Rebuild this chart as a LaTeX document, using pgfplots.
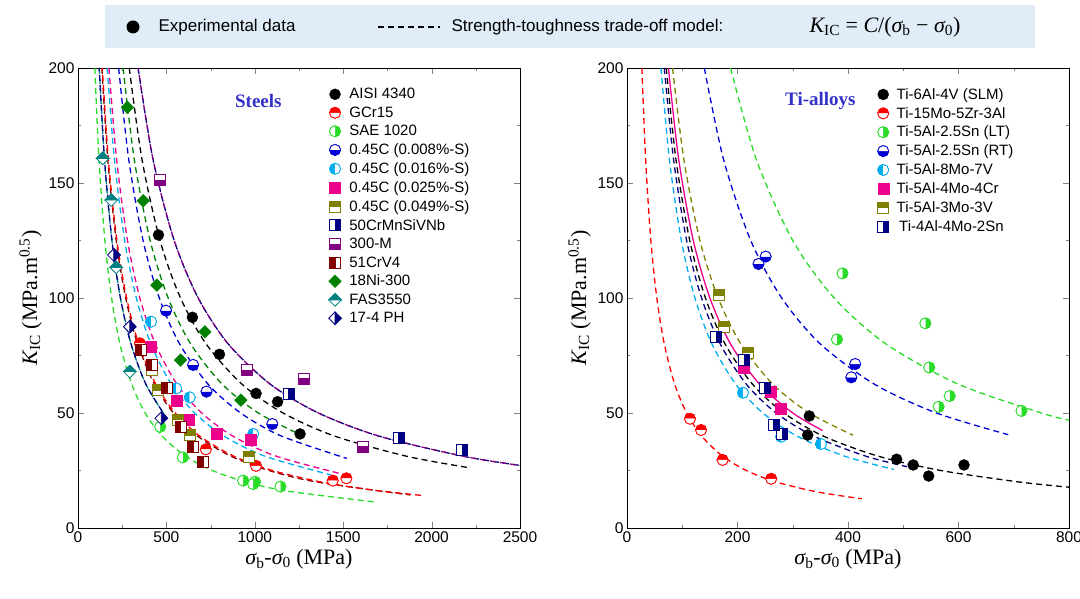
\documentclass[border=0pt]{standalone}
\usepackage{pgfplots}
\pgfplotsset{compat=1.18}
\usetikzlibrary{plotmarks}
\usepackage{fontspec}
\setmainfont{Liberation Sans}
\newfontfamily\tnr{Liberation Serif}
\definecolor{lgreen}{RGB}{40,220,40}
\definecolor{mblue}{RGB}{0,0,210}
\definecolor{olv}{RGB}{128,128,0}
\definecolor{nvy}{RGB}{0,0,128}
\definecolor{prp}{RGB}{128,0,128}
\definecolor{mrn}{RGB}{128,0,0}
\definecolor{dgrn}{RGB}{0,128,0}
\definecolor{tl}{RGB}{0,128,128}
\definecolor{boxbg}{RGB}{224,236,248}
\definecolor{ttl}{RGB}{50,50,200}
\pgfdeclareplotmark{hsq}{\pgfpathrectangle{\pgfpoint{-\pgfplotmarksize}{0pt}}{\pgfpoint{2\pgfplotmarksize}{\pgfplotmarksize}}\pgfusepathqfillstroke}
\pgfdeclareplotmark{fdm}{\pgfpathmoveto{\pgfpoint{0pt}{1.15\pgfplotmarksize}}\pgfpathlineto{\pgfpoint{1.15\pgfplotmarksize}{0pt}}\pgfpathlineto{\pgfpoint{0pt}{-1.15\pgfplotmarksize}}\pgfpathlineto{\pgfpoint{-1.15\pgfplotmarksize}{0pt}}\pgfpathclose\pgfusepathqfillstroke}
\pgfdeclareplotmark{hdm}{\pgfpathmoveto{\pgfpoint{0pt}{1.15\pgfplotmarksize}}\pgfpathlineto{\pgfpoint{1.15\pgfplotmarksize}{0pt}}\pgfpathlineto{\pgfpoint{-1.15\pgfplotmarksize}{0pt}}\pgfpathclose\pgfusepathqfillstroke}
\newcommand\hp[5]{%
 \addplot[only marks, mark=#2, mark size=5.5pt, mark options={draw=#1,fill=white,line width=0.8pt}, forget plot] coordinates {#5};
 \addplot[only marks, mark=#3, mark size=5.5pt, color=#1, mark options={draw=#1,fill=#1,rotate=#4,line width=0.8pt},
   legend image code/.code={\draw[mark=#2,mark size=5.5pt,mark options={draw=#1,fill=white,line width=0.8pt}] plot coordinates {(0.35cm,0cm)}; \draw[mark=#3,mark size=5.5pt,mark options={draw=#1,fill=#1,rotate=#4,line width=0.8pt}] plot coordinates {(0.35cm,0cm)};}] coordinates {#5};}
\newcommand\fp[3]{\addplot[only marks, mark=#2, mark size=5.5pt, color=#1, mark options={fill=#1},
   legend image code/.code={\draw[mark=#2,mark size=5.5pt,mark options={draw=#1,fill=#1}] plot coordinates {(0.35cm,0cm)};}] coordinates {#3};}
\newcommand\cv[2]{\addplot[#1, no marks, smooth, line width=1.3pt, dash pattern=on 6pt off 4pt, forget plot] coordinates {#2};}
\pgfplotsset{myax/.style={scale only axis, width=442pt, height=460pt, ymin=0, ymax=200,
 ytick={0,50,100,150,200}, minor y tick num=1, minor x tick num=1, tick align=inside,
 major tick length=6pt, minor tick length=3pt, axis line style={line width=0.8pt},
 ticklabel style={font=\fontsize{15.5}{18}\selectfont}, /pgf/number format/assume math mode=true,
 /pgf/number format/1000 sep={},
 label style={font=\tnr\fontsize{22}{24}\selectfont},
 ylabel={{\itshape K}\textsubscript{IC} (MPa.m\textsuperscript{0.5})},
 xlabel={{\itshape σ}\textsubscript{b}-{\itshape σ}\textsubscript{0} (MPa)},
 legend style={anchor=north west, draw=none, fill=none, font=\fontsize{15}{17}\selectfont, row sep=2.5pt, column sep=6pt, cells={anchor=west}},
 clip=true}}
\begin{document}
\begin{tikzpicture}
\useasboundingbox (0pt,0pt) rectangle (1080pt,599pt);
% top legend
\fill[boxbg] (105pt,551pt) rectangle (1035pt,594pt);
\fill[black] (133pt,572pt) circle (6.5pt);
\node[anchor=west,font=\fontsize{17}{19}\selectfont] at (155pt,572pt) {Experimental data};
\draw[line width=1.3pt, dash pattern=on 6pt off 4pt] (378pt,572pt) -- (440pt,572pt);
\node[anchor=west,font=\fontsize{17}{19}\selectfont] at (448pt,572pt) {Strength-toughness trade-off model:};
\node[anchor=west,font=\tnr\fontsize{22}{24}\selectfont] at (806pt,572pt) {{\itshape K}\textsubscript{IC} = {\itshape C}/({\itshape σ}\textsubscript{b} − {\itshape σ}\textsubscript{0})};
% left axis
\begin{axis}[myax, at={(78pt,71pt)}, anchor=south west, xmin=0, xmax=2500, xtick={0,500,...,2500},
  legend style={at={(0.56,0.965)}}]
\cv{mrn}{(135,200)(168.75,160)(216,125)(270,100)(337.5,80)(432,62.5)(540,50)(675,40)(864,31.25)(1080,25)(1350,20)(1880,14.36)}
\cv{red,dash phase=3pt}{(137.5,200)(171.9,160)(220,125)(275,100)(343.8,80)(440,62.5)(550,50)(687.5,40)(880,31.25)(1100,25)(1375,20)(1650,16.67)(1940,14.18)}
\cv{lgreen}{(95,200)(118.75,160)(152,125)(190,100)(237.5,80)(304,62.5)(380,50)(475,40)(608,31.25)(760,25)(950,20)(1187.5,16)(1680,11.31)}
\cv{cyan}{(165,200)(206.25,160)(264,125)(330,100)(412.5,80)(528,62.5)(660,50)(825,40)(1056,31.25)(1430,23.08)}
\cv{magenta}{(175,200)(218.75,160)(280,125)(350,100)(437.5,80)(560,62.5)(700,50)(875,40)(1120,31.25)(1500,23.33)}
\cv{mblue}{(230,200)(287.5,160)(368,125)(460,100)(575,80)(736,62.5)(920,50)(1150,40)(1520,30.26)}
\cv{dgrn}{(255,200)(318.75,160)(408,125)(510,100)(637.5,80)(816,62.5)(1020,50)(1260,40.48)}
\cv{black}{(290,200)(362.5,160)(464,125)(580,100)(725,80)(928,62.5)(1160,50)(1450,40)(1856,31.25)(2200,26.36)}
\cv{nvy}{(340,200)(425,160)(544,125)(680,100)(850,80)(1088,62.5)(1360,50)(1700,40)(2176,31.25)(2500,27.2)}
\cv{prp,dash phase=3pt}{(340,200)(425,160)(544,125)(680,100)(850,80)(1088,62.5)(1360,50)(1700,40)(2176,31.25)(2500,27.2)}
\cv{tl}{(120,200)(150,160)(192,125)(240,100)(300,80)(384,62.5)(500,48)}
\cv{nvy,dash phase=3pt}{(120,200)(150,160)(192,125)(240,100)(300,80)(384,62.5)(500,48)}
\fp{black}{*}{(455,127.4)(647,91.6)(800,75.5)(1007,58.5)(1129,54.9)(1256,40.9)}
\addlegendentry{AISI 4340}
\hp{red}{*}{halfcircle*}{0}{(350,80.3)(723,34.2)(1007,27.0)(1441,20.6)(1518,21.6)}
\addlegendentry{GCr15}
\hp{lgreen}{*}{halfcircle*}{-90}{(465,44)(593,30.7)(934,20.6)(1001,20.1)(991,19.1)(1145,18.0)}
\addlegendentry{SAE 1020}
\hp{mblue}{*}{halfcircle*}{180}{(498,94.5)(651,70.9)(727,59.3)(1099,45.2)}
\addlegendentry{0.45C (0.008\%-S)}
\hp{cyan}{*}{halfcircle*}{90}{(413,89.7)(555,60.7)(632,56.8)(991,40.9)}
\addlegendentry{0.45C (0.016\%-S)}
\fp{magenta}{square*}{(413,78.8)(561,55.3)(624,47.2)(785,41.2)(978,38.5)}
\addlegendentry{0.45C (0.025\%-S)}
\hp{olv}{square*}{hsq}{0}{(417,68.7)(452,60)(567,47.2)(632,40.4)(969,31)}
\addlegendentry{0.45C (0.049\%-S)}
\hp{nvy}{square*}{hsq}{-90}{(1192,58.5)(1815,39.3)(2174,33.9)}
\addlegendentry{50CrMnSiVNb}
\hp{prp}{square*}{hsq}{180}{(465,151.3)(957,68.7)(1279,65)(1614,35.4)}
\addlegendentry{300-M}
\hp{mrn}{square*}{hsq}{90}{(356,77.4)(417,70.9)(503,60.7)(580,44)(651,35.4)(708,28.8)}
\addlegendentry{51CrV4}
\fp{dgrn}{fdm}{(279,182.9)(369,142.3)(446,105.6)(580,73)(718,85.3)(921,55.6)}
\addlegendentry{18Ni-300}
\hp{tl}{fdm}{hdm}{0}{(140,160.7)(188,142.6)(216,113.3)(293,68)}
\addlegendentry{FAS3550}
\hp{nvy}{fdm}{hdm}{-90}{(203,118.7)(293,87.5)(471,47.7)}
\addlegendentry{17-4 PH}
\node[font=\tnr\bfseries\fontsize{19}{21}\selectfont, text=ttl] at (axis cs:1020,185.6) {Steels};
\end{axis}
% right axis
\begin{axis}[myax, at={(627pt,71pt)}, anchor=south west, xmin=0, xmax=800, xtick={0,200,...,800},
  legend style={at={(0.56,0.965)}}]
\cv{red}{(27,200)(33.75,160)(43.2,125)(54,100)(67.5,80)(86.4,62.5)(108,50)(135,40)(172.8,31.25)(216,25)(270,20)(345.6,15.625)(425,12.71)}
\cv{cyan}{(61.5,200)(76.9,160)(98.4,125)(123,100)(153.75,80)(196.8,62.5)(246,50)(307.5,40)(393.6,31.25)(483,25.47)}
\cv{nvy}{(67.5,200)(84.4,160)(108,125)(135,100)(168.75,80)(216,62.5)(270,50)(337.5,40)(432,31.25)(507,26.63)}
\cv{black}{(71,200)(88.75,160)(113.6,125)(142,100)(177.5,80)(227.2,62.5)(284,50)(355,40)(454.4,31.25)(568,25)(710,20)(800,17.75)}
\cv{olv}{(82.5,200)(103.1,160)(132,125)(165,100)(206.25,80)(264,62.5)(330,50)(409,40.34)}
\addplot[magenta, no marks, smooth, line width=1.3pt, forget plot] coordinates {(75,200)(93.75,160)(120,125)(150,100)(187.5,80)(240,62.5)(300,50)(354,42.37)};
\cv{mblue}{(140,200)(175,160)(224,125)(280,100)(350,80)(448,62.5)(560,50)(690,40.58)}
\cv{lgreen}{(187.5,200)(234.4,160)(300,125)(375,100)(468.75,80)(600,62.5)(750,50)(800,46.875)}
\fp{black}{*}{(330,48.7)(327,40.4)(488,29.9)(518,27.4)(546,22.6)(610,27.4)}
\addlegendentry{Ti-6Al-4V (SLM)}
\hp{red}{*}{halfcircle*}{0}{(114,47.5)(134,42.6)(173,29.6)(261,21.4)}
\addlegendentry{Ti-15Mo-5Zr-3Al}
\hp{lgreen}{*}{halfcircle*}{-90}{(390,110.7)(540,89)(380,82)(547,69.8)(584,57.4)(564,52.7)(714,50.9)}
\addlegendentry{Ti-5Al-2.5Sn (LT)}
\hp{mblue}{*}{halfcircle*}{180}{(238,114.8)(251,118)(413,71.3)(406,65.5)}
\addlegendentry{Ti-5Al-2.5Sn (RT)}
\hp{cyan}{*}{halfcircle*}{90}{(210,58.8)(279,39.7)(351,36.5)}
\addlegendentry{Ti-5Al-8Mo-7V}
\fp{magenta}{square*}{(211,69.8)(260,59.3)(279,52)}
\addlegendentry{Ti-5Al-4Mo-4Cr}
\hp{olv}{square*}{hsq}{0}{(166,101.3)(176,87.5)(218,76.2)}
\addlegendentry{Ti-5Al-3Mo-3V}
\hp{nvy}{square*}{hsq}{-90}{(161,83.2)(212,73.3)(249,60.7)(265,44.8)(281,40.9)}
\addlegendentry{\,Ti-4Al-4Mo-2Sn}
\node[font=\tnr\bfseries\fontsize{19}{21}\selectfont, text=ttl] at (axis cs:350,185.6) {Ti-alloys};
\end{axis}
\end{tikzpicture}
\end{document}
